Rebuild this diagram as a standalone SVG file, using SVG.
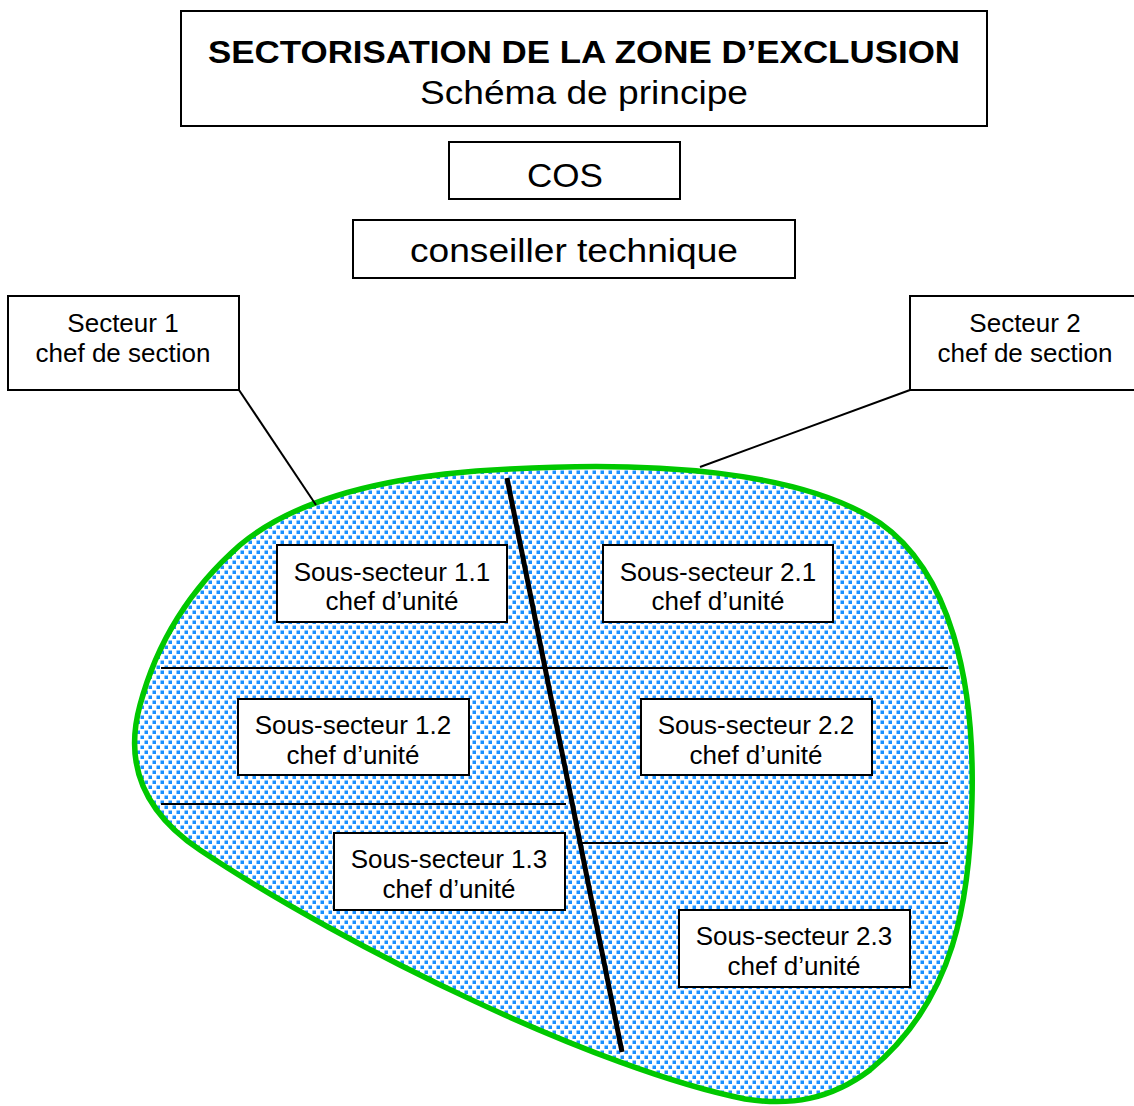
<svg xmlns="http://www.w3.org/2000/svg" width="1134" height="1106" viewBox="0 0 1134 1106">
<defs>
<pattern id="dots" width="8" height="10" patternUnits="userSpaceOnUse">
<rect x="0.5" y="0.5" width="3.5" height="3.5" fill="#1a90ff"/>
<rect x="4.5" y="5.5" width="3.5" height="3.5" fill="#1a90ff"/>
</pattern>
<style>
.box{fill:#fff;stroke:#000;stroke-width:2}
.t{font-family:"Liberation Sans",Arial,sans-serif;fill:#000;text-anchor:middle}
.big{font-size:34px}
.mid{font-size:26px}
.thin{stroke:#000;stroke-width:2;fill:none}
</style>
</defs>
<rect width="1134" height="1106" fill="#fff"/>

<g id="zone">
<path d="M 510 469 C 650 461 800 470 880 523 C 950 572 975 680 972 800 C 970 900 955 1000 870 1070 C 830 1100 790 1106 745 1099 C 600 1070 350 950 200 850 C 140 810 125 760 140 705 C 160 630 200 580 240 545 C 300 495 400 474 510 469 Z" fill="#fff"/>
<path d="M 510 469 C 650 461 800 470 880 523 C 950 572 975 680 972 800 C 970 900 955 1000 870 1070 C 830 1100 790 1106 745 1099 C 600 1070 350 950 200 850 C 140 810 125 760 140 705 C 160 630 200 580 240 545 C 300 495 400 474 510 469 Z" fill="url(#dots)" stroke="#00c800" stroke-width="5.5"/>
</g>

<g id="connectors">
<line class="thin" x1="161" y1="668" x2="948" y2="668"/>
<line class="thin" x1="161" y1="804" x2="566" y2="804"/>
<line class="thin" x1="580" y1="843" x2="948" y2="843"/>
<line x1="507" y1="478" x2="622" y2="1052" stroke="#000" stroke-width="5"/>
<line class="thin" x1="239" y1="390" x2="316" y2="505"/>
<line class="thin" x1="910" y1="390" x2="700" y2="467"/>
</g>

<g id="title">
<rect class="box" x="181" y="11" width="806" height="115"/>
<text class="t" x="584" y="63" font-size="32" font-weight="bold" textLength="752" lengthAdjust="spacingAndGlyphs">SECTORISATION DE LA ZONE D’EXCLUSION</text>
<text class="t big" x="584" y="104" textLength="328" lengthAdjust="spacingAndGlyphs">Schéma de principe</text>
</g>

<g id="cos">
<rect class="box" x="449" y="142" width="231" height="57"/>
<text class="t big" x="565" y="187" textLength="76" lengthAdjust="spacingAndGlyphs">COS</text>
</g>

<g id="conseiller">
<rect class="box" x="353" y="220" width="442" height="58"/>
<text class="t big" x="574" y="262" textLength="328" lengthAdjust="spacingAndGlyphs">conseiller technique</text>
</g>

<g id="secteur1">
<rect class="box" x="8" y="296" width="231" height="94"/>
<text class="t mid" x="123" y="332">Secteur 1</text>
<text class="t mid" x="123" y="362">chef de section</text>
</g>

<g id="secteur2">
<rect class="box" x="910" y="296" width="230" height="94"/>
<text class="t mid" x="1025" y="332">Secteur 2</text>
<text class="t mid" x="1025" y="362">chef de section</text>
</g>

<g id="ss11">
<rect class="box" x="277" y="545" width="230" height="77"/>
<text class="t mid" x="392" y="581">Sous-secteur 1.1</text>
<text class="t mid" x="392" y="610">chef d’unité</text>
</g>

<g id="ss21">
<rect class="box" x="603" y="545" width="230" height="77"/>
<text class="t mid" x="718" y="581">Sous-secteur 2.1</text>
<text class="t mid" x="718" y="610">chef d’unité</text>
</g>

<g id="ss12">
<rect class="box" x="238" y="699" width="231" height="76"/>
<text class="t mid" x="353" y="734">Sous-secteur 1.2</text>
<text class="t mid" x="353" y="764">chef d’unité</text>
</g>

<g id="ss22">
<rect class="box" x="641" y="699" width="231" height="76"/>
<text class="t mid" x="756" y="734">Sous-secteur 2.2</text>
<text class="t mid" x="756" y="764">chef d’unité</text>
</g>

<g id="ss13">
<rect class="box" x="334" y="833" width="231" height="77"/>
<text class="t mid" x="449" y="868">Sous-secteur 1.3</text>
<text class="t mid" x="449" y="898">chef d’unité</text>
</g>

<g id="ss23">
<rect class="box" x="679" y="910" width="231" height="77"/>
<text class="t mid" x="794" y="945">Sous-secteur 2.3</text>
<text class="t mid" x="794" y="975">chef d’unité</text>
</g>
</svg>
